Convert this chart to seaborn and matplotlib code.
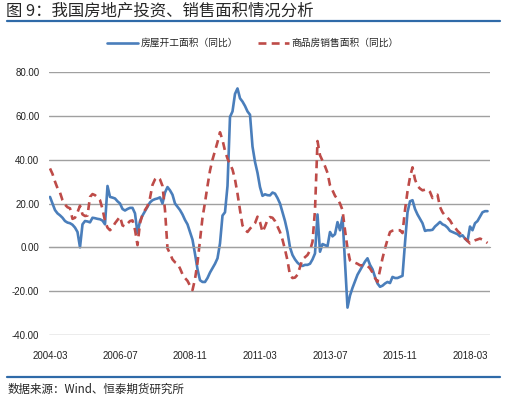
import pandas as pd
import numpy as np
import matplotlib
matplotlib.use("Agg")
import matplotlib.pyplot as plt
from matplotlib.lines import Line2D
import seaborn as sns

# 月度数据, 从 2004-03 开始
start = "2004-03"

# 房屋开工面积（同比）
kaigong = [
    23, 20, 17, 15.5, 14.6, 13.5, 12, 11.3, 11, 10.3, 9, 7,
    0, 10.5, 12, 11.8, 11.4, 13.5, 13.3, 13, 12.8, 12.2, 10.5, 28,
    23, 22.7, 22.3, 21, 20, 17.5, 16.8, 17.5, 18, 18, 15.5, 6.5,
    12, 14.5, 16.5, 18.5, 20.5, 21.5, 22, 22.3, 22.8, 20, 25, 27.5,
    26, 24, 20, 18.5, 17, 15, 12.5, 10.5, 7, 3.5, -3, -10,
    -15, -15.8, -15.8, -14, -11.5, -9.5, -7.5, -5, 1.8, 14.5, 16, 28,
    59.5, 62, 70, 72.5, 68, 66.5, 64.5, 62, 60.5, 46, 39, 34,
    27.5, 23.5, 24.2, 23.8, 23.7, 25, 24.5, 22.5, 20, 16, 12, 7,
    0, -3.5, -5.5, -7, -8, -8.5, -8, -8, -7.5, -5.5, -2.8, 15,
    -2, 1.5, 1, 0.5, 7, 5, 6, 11.5, 7.8, 13.8, -7, -27.5,
    -22, -18.5, -15.5, -12.5, -10.5, -8.5, -6.5, -5, -8, -10, -13.5, -16.5,
    -18, -17.5, -16.5, -15.8, -16.3, -13.5, -14, -14, -13.5, -13, 2, 16,
    21, 21.5, 17.5, 15, 13, 11, 7.5, 7.8, 7.8, 8, 9.5, 10.5,
    11.6, 10.5, 10, 9, 7.5, 7, 6.5, 6, 5, 5.5, 4, 2.8,
    9.5, 7.8, 11, 12, 14, 16, 16.5, 16.5,
]

# 商品房销售面积（同比）
xiaoshou = [
    36, 33.5, 30, 27, 25, 21.5, 19.5, 18.3, 17.8, 13, 13.5, 16,
    19, 15, 14.3, 14.5, 23, 24.3, 23.8, 22.8, 21.5, 17.5, 12, 9,
    7.8, 9, 11, 12.5, 14, 10, 9.5, 10.8, 12, 12.3, 8, 1,
    11, 15, 17, 18.8, 22.5, 28.5, 31, 32, 31, 28, 17, -0.5,
    -2.8, -5.5, -6.8, -7.5, -9.6, -12.3, -14, -15.3, -17.5, -19.5, -14.5, -7,
    3.2, 13.5, 20.5, 28, 35, 40, 44, 48, 52.5, 49, 44, 40.5,
    38, 35.5, 31, 24.5, 17, 10, 8, 7, 8.5, 9.8, 11, 14,
    11.5, 7, 9.5, 12.5, 13.8, 13.5, 12, 9.5, 7, 3.5, -1, -6,
    -12.8, -14, -13.8, -12.5, -9, -5.5, -4.5, -3.5, -1.4, 2.5, 17, 48.5,
    42, 39.5, 37, 34, 28.3, 26, 23.5, 22, 20, 17, 7.8, -0.5,
    -6, -6.7, -7, -7.5, -8.2, -8.2, -8.2, -8.5, -9.6, -11.5, -14, -15.8,
    -10.5, -5, -0.5, 3.5, 7, 7.6, 7.8, 7.8, 7.8, 6.5, 17, 25.5,
    32, 36.5, 31, 28, 26.8, 26, 26.3, 26.5, 25.3, 22.5, 23.5, 24,
    18.4, 16, 14.5, 13.5, 12.3, 10.3, 9, 7.5, 6.4, 5, 4, 3,
    1.8, 2.7, 3.2, 3.6, 4, 3.5, 2.8, 2,
]

series_names = ["房屋开工面积（同比）", "商品房销售面积（同比）"]
yticks = [-40, -20, 0, 20, 40, 60, 80]
tick_step = 28  # 每 28 个月一个刻度

blue = "#4a7ebb"
red = "#be4b48"
rule = "#2f6aa8"
gray = "#a0a0a0"

n = len(kaigong)
dates = pd.period_range(start, periods=n, freq="M")
df = pd.DataFrame({"m": np.arange(n), series_names[0]: kaigong, series_names[1]: xiaoshou})
long = df.melt(id_vars="m", var_name="series", value_name="val")

sns.set_style("white")
plt.rcParams['font.family'] = ['Liberation Sans', 'Noto Sans CJK SC', 'DejaVu Sans']

W, H = 506, 398
fig = plt.figure(figsize=(W / 100, H / 100), dpi=100)
ax = fig.add_axes([49 / W, 1 - 335 / H, 441 / W, 263 / H])

sns.lineplot(data=long, x="m", y="val", hue="series", style="series",
             palette={series_names[0]: blue, series_names[1]: red},
             dashes={series_names[0]: "", series_names[1]: (3, 2)},
             linewidth=1.9, ax=ax)

ax.set_xlim(-0.4, 176)
ax.set_ylim(-40, 80)
ax.set_yticks(yticks)
ax.set_yticklabels([f"{v:.2f}" for v in yticks])
xt = list(range(0, n, tick_step))
ax.set_xticks(xt)
ax.set_xticklabels([dates[i].strftime("%Y-%m") for i in xt])
ax.set_xlabel("")
ax.set_ylabel("")

ax.grid(axis="y", color=gray, linewidth=1)
ax.grid(axis="x", visible=False)
for s in ["top", "right", "left"]:
    ax.spines[s].set_visible(False)
ax.spines["bottom"].set_position(("data", 0))
ax.spines["bottom"].set_color(gray)
ax.tick_params(axis="y", length=0, pad=7, labelsize=7, labelcolor="#222222")
ax.tick_params(axis="x", direction="out", length=3.6, width=1, color=gray, pad=71,
               labelsize=7, labelcolor="#222222")

# 图例放在顶部
handles, labels = ax.get_legend_handles_labels()
ax.legend_.remove()
fig.legend(handles, labels, loc="center", bbox_to_anchor=(0.5, 1 - 43 / H), ncol=2,
           frameon=False, fontsize=7, handlelength=3.2, columnspacing=2, handletextpad=0.3)

# 标题和来源
fig.text(6 / W, 1 - 11 / H, "图 9：我国房地产投资、销售面积情况分析", fontsize=11.8,
         va="center", ha="left", family=['Noto Sans CJK SC', 'DejaVu Sans'])
fig.add_artist(Line2D([7 / W, 500 / W], [1 - 21 / H] * 2, color=rule, linewidth=1.6))
fig.add_artist(Line2D([7 / W, 500 / W], [1 - 377 / H] * 2, color=rule, linewidth=1.6))
fig.text(8 / W, 1 - 389 / H, "数据来源：Wind、恒泰期货研究所", fontsize=8.3,
         va="center", ha="left", family=['Noto Sans CJK SC', 'DejaVu Sans'])

fig.savefig("out.png", dpi=100)
